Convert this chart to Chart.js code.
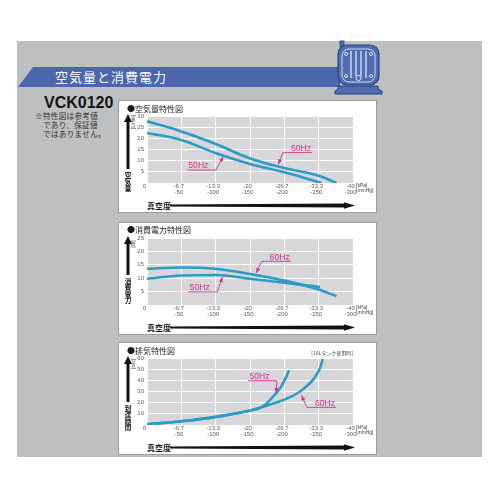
<!DOCTYPE html>
<html>
<head>
<meta charset="utf-8">
<script src="https://cdn.jsdelivr.net/npm/chart.js@4/dist/chart.umd.min.js"></script>
<style>
html,body{margin:0;padding:0;background:#fff;width:500px;height:500px;overflow:hidden;}
#sheet{position:absolute;left:17px;top:41px;width:465px;height:416px;background:#bdbfc1;}
#banner{position:absolute;left:18px;top:67px;width:322px;height:20px;background:#4b66aa;
  clip-path:polygon(15px 0,100% 0,100% 100%,0 100%);}
#banner span{position:absolute;left:37px;top:0;color:#fff;font:13px/20px "Noto Sans CJK JP";letter-spacing:1px;white-space:nowrap;}
#icon{position:absolute;left:334px;top:40px;}
#model{position:absolute;left:44px;top:95px;font:bold 16px/16px "Liberation Sans",Arial,sans-serif;color:#151515;}
#note{position:absolute;left:43px;top:111px;font:7.6px/9px "Noto Sans CJK JP";color:#333;text-indent:-8px;letter-spacing:0.3px;}
.panel{position:absolute;left:118px;width:257px;height:111px;background:#fff;border:1px solid #9c9c9c;}
.panel canvas{position:absolute;left:-1px;top:-1px;}
</style>
</head>
<body>
<div id="sheet"></div>
<div id="banner"><span>空気量と消費電力</span></div>
<svg id="icon" width="50" height="56" viewBox="0 0 50 56">
  <rect x="6" y="1" width="4" height="6" fill="#4f6db0" stroke="#2c3f78" stroke-width="0.8"/>
  <path d="M4 46 L44 46 L44 49 L48 51 L48 54 L1 54 L1 51 L4 49 Z" fill="#4f6db0" stroke="#2c3f78" stroke-width="1"/>
  <rect x="4" y="5" width="41" height="40" rx="9" fill="#4f6db0" stroke="#2c3f78" stroke-width="1.2"/>
  <rect x="8" y="9" width="33" height="33" rx="7" fill="none" stroke="#dde4f4" stroke-width="0.9"/>
  <g stroke="#ffffff" stroke-width="1.1">
    <line x1="17" y1="11" x2="17" y2="38"/>
    <line x1="22" y1="11" x2="22" y2="36"/>
    <line x1="27" y1="11" x2="27" y2="36"/>
    <line x1="32" y1="11" x2="32" y2="38"/>
  </g>
  <g fill="none" stroke="#ffffff" stroke-width="0.8">
    <circle cx="12" cy="14" r="1.5"/><circle cx="37" cy="14" r="1.5"/>
    <circle cx="12" cy="36" r="1.5"/><circle cx="37" cy="36" r="1.5"/>
    <circle cx="24.5" cy="38" r="2.6"/>
  </g>
</svg>
<div id="model">VCK0120</div>
<div id="note">※特性図は参考値<br>であり、保証値<br>ではありません。</div>

<div class="panel" style="top:100px"><canvas id="c1" width="259" height="113"></canvas></div>
<div class="panel" style="top:222px"><canvas id="c2" width="259" height="113"></canvas></div>
<div class="panel" style="top:342px"><canvas id="c3" width="259" height="113"></canvas></div>

<script>
// vacuum axis: values in mmHg, labels show kPa and mmHg
const vacuumTicks = [0, 50, 100, 150, 200, 250, 300];
const kpaLabels = ['0', '-6.7', '-13.3', '-20', '-26.7', '-33.3', '-40'];
const mmhgLabels = ['', '-50', '-100', '-150', '-200', '-250', '-300'];

// 空気量 [L/min]
const airVac60 = [0, 50, 100, 150, 200, 250, 276];
const air60 = [27.6, 23.1, 17.5, 11.0, 6.7, 3.2, 0];
const airVac50 = [0, 50, 100, 150, 200, 254];
const air50 = [22.4, 19.3, 13.4, 8.5, 4.8, 0];

// 消費電力 [W]
const pwrVac60 = [0, 50, 100, 150, 200, 250, 276];
const pwr60 = [13.5, 14.0, 13.5, 11.6, 9.1, 5.8, 3.3];
const pwrVac50 = [0, 50, 100, 150, 200, 252];
const pwr50 = [9.8, 11.0, 11.2, 9.8, 8.3, 6.7];

// 到達時間 [sec] (10Lタンク使用時)
const timeVac60 = [0, 50, 100, 150, 175, 200, 223, 232, 242, 251, 256];
const time60 = [0.6, 3.3, 7.3, 13.0, 17.5, 22.7, 30.0, 34.6, 40.6, 49.6, 59.0];
const timeVac50 = [0, 50, 100, 150, 169, 184, 194, 203, 207];
const time50 = [0.6, 3.3, 7.3, 13.0, 16.7, 25.7, 33.0, 43.6, 49.0];

const LINE = '#2b9bc8';
const MAGENTA = '#d2338a';
const JP = '"Noto Sans CJK JP", sans-serif';
const LAT = '"Liberation Sans", Arial, sans-serif';

function series(xs, ys) {
  return {
    data: xs.map((x, i) => ({ x: x, y: ys[i] })),
    borderColor: LINE, borderWidth: 2.6, pointRadius: 0,
    cubicInterpolationMode: 'monotone', fill: false
  };
}

// panel decorations: title, axis arrows, stacked axis names, Hz callouts
const decor = {
  id: 'decor',
  beforeDraw(chart) {
    const a = chart.chartArea, ctx = chart.ctx;
    ctx.save();
    ctx.fillStyle = '#d7d7d9';
    ctx.fillRect(a.left, a.top, a.right - a.left, a.bottom - a.top);
    ctx.restore();
  },
  afterDraw(chart) {
    const o = chart.options.plugins.decor;
    const ctx = chart.ctx, a = chart.chartArea;
    const xs = chart.scales.x, ys = chart.scales.y;
    ctx.save();

    // panel title
    ctx.fillStyle = '#1a1a1a';
    ctx.font = '8px ' + JP;
    ctx.textBaseline = 'middle';
    ctx.textAlign = 'left';
    ctx.fillText(o.title, 9, o.titleY);

    // upward arrow and stacked axis name
    const ax = 10;
    ctx.fillStyle = '#111';
    ctx.fillRect(ax - 1.5, 21, 3, o.nameTop - 3 - 21);
    ctx.beginPath();
    ctx.moveTo(ax, 14); ctx.lineTo(ax + 4, 22); ctx.lineTo(ax - 4, 22); ctx.closePath();
    ctx.fill();
    ctx.font = 'bold 6.6px ' + JP;
    ctx.textAlign = 'center';
    ctx.textBaseline = 'top';
    for (let i = 0; i < o.name.length; i++) {
      ctx.fillText(o.name[i], ax, o.nameTop + i * 6.4);
    }

    // unit beside the value axis
    ctx.save();
    ctx.translate(15.5, a.top + 6);
    ctx.rotate(-Math.PI / 2);
    ctx.font = '4.6px ' + LAT;
    ctx.fillStyle = '#444';
    ctx.textAlign = 'center';
    ctx.textBaseline = 'middle';
    ctx.fillText(o.unit, 0, 0);
    ctx.restore();

    // vacuum axis name and arrow
    const vy = 105.5;
    ctx.fillStyle = '#111';
    ctx.font = 'bold 8px ' + JP;
    ctx.textAlign = 'left';
    ctx.textBaseline = 'middle';
    ctx.fillText('真空度', 29, vy);
    ctx.beginPath();
    ctx.moveTo(52, vy - 1);
    ctx.lineTo(226, vy - 2);
    ctx.lineTo(226, vy - 3.2);
    ctx.lineTo(237, vy);
    ctx.lineTo(226, vy + 3.2);
    ctx.lineTo(226, vy + 2);
    ctx.lineTo(52, vy + 1);
    ctx.closePath();
    ctx.fill();

    // pressure units
    ctx.fillStyle = '#444';
    ctx.font = '5px ' + LAT;
    ctx.textAlign = 'left';
    ctx.textBaseline = 'middle';
    ctx.fillText('[kPa]', a.right + 3, a.bottom + 2.5);
    ctx.fillText('[mmHg]', a.right + 3, a.bottom + 8);

    // optional note
    if (o.note) {
      ctx.font = '5px ' + JP;
      ctx.textAlign = 'right';
      ctx.fillText(o.note, a.right, a.top - 5);
    }

    // Hz callouts
    ctx.strokeStyle = MAGENTA;
    ctx.fillStyle = MAGENTA;
    ctx.lineWidth = 0.9;
    ctx.font = '8.6px ' + LAT;
    ctx.textBaseline = 'alphabetic';
    o.callouts.forEach(c => {
      const ux = xs.getPixelForValue(c.at[0]);
      const uy = ys.getPixelForValue(c.at[1]);
      const w = 29;
      const sx = c.side === 'right' ? ux + w : ux;
      const tx = xs.getPixelForValue(c.tip[0]);
      const ty = ys.getPixelForValue(c.tip[1]);
      ctx.beginPath();
      ctx.moveTo(ux, uy); ctx.lineTo(ux + w, uy);
      ctx.moveTo(sx, uy); ctx.lineTo(tx, ty);
      ctx.stroke();
      const ang = Math.atan2(ty - uy, tx - sx);
      ctx.beginPath();
      ctx.moveTo(tx, ty);
      ctx.lineTo(tx - 5 * Math.cos(ang) + 2 * Math.sin(ang), ty - 5 * Math.sin(ang) - 2 * Math.cos(ang));
      ctx.lineTo(tx - 5 * Math.cos(ang) - 2 * Math.sin(ang), ty - 5 * Math.sin(ang) + 2 * Math.cos(ang));
      ctx.closePath();
      ctx.fill();
      if (c.side === 'right') {
        ctx.textAlign = 'left';
        ctx.fillText(c.text, ux + 1.5, uy - 1.8);
      } else {
        ctx.textAlign = 'right';
        ctx.fillText(c.text, ux + w - 1, uy - 1.8);
      }
    });
    ctx.restore();
  }
};

function makeChart(id, datasets, yMax, yStep, deco) {
  return new Chart(document.getElementById(id), {
    type: 'line',
    data: { datasets: datasets },
    options: {
      responsive: false,
      animation: false,
      devicePixelRatio: 1,
      layout: { padding: { top: 16, right: 24, left: 0, bottom: 0 } },
      plugins: { legend: { display: false }, tooltip: { enabled: false }, decor: deco },
      scales: {
        x: {
          type: 'linear', min: 0, max: 300,
          afterBuildTicks: s => { s.ticks = vacuumTicks.map(v => ({ value: v })); },
          afterFit: s => { s.height = 30; },
          grid: { color: '#ffffff', lineWidth: 1, drawTicks: false },
          border: { display: false },
          ticks: {
            padding: 0, color: '#5e5e5e', maxRotation: 0, autoSkip: false, labelOffset: -2.5,
            font: { family: LAT, size: 6, lineHeight: 1.05 },
            callback: v => {
              const i = vacuumTicks.indexOf(v);
              return i <= 0 ? kpaLabels[0] : [kpaLabels[i], mmhgLabels[i]];
            }
          }
        },
        y: {
          min: 0, max: yMax,
          afterFit: s => { s.width = 29; },
          grid: { color: '#ffffff', lineWidth: 1, drawTicks: false },
          border: { display: false },
          ticks: {
            stepSize: yStep, padding: 3, color: '#5e5e5e',
            font: { family: LAT, size: 6 },
            callback: v => v === 0 ? '' : v
          }
        }
      }
    },
    plugins: [decor]
  });
}

makeChart('c1', [series(airVac60, air60), series(airVac50, air50)], 30, 5, {
  title: '●空気量特性図', titleY: 8.5, name: '空気量', nameTop: 72, unit: '[L/min]',
  callouts: [
    { text: '50Hz', at: [58, 5.8], side: 'right', tip: [111, 11.8] },
    { text: '60Hz', at: [198, 13.6], side: 'left', tip: [191, 8.3] }
  ]
});

makeChart('c2', [series(pwrVac60, pwr60), series(pwrVac50, pwr50)], 25, 5, {
  title: '●消費電力特性図', titleY: 7.5, name: '消費電力', nameTop: 56, unit: '[W]',
  callouts: [
    { text: '60Hz', at: [167, 16.3], side: 'left', tip: [159, 11.9] },
    { text: '50Hz', at: [60, 4.9], side: 'right', tip: [110, 10.4] }
  ]
});

makeChart('c3', [series(timeVac50, time50), series(timeVac60, time60)], 60, 10, {
  title: '●排気特性図', titleY: 8.5, name: '到達時間', nameTop: 63, unit: '[sec]',
  note: '[10Lタンク使用時]',
  callouts: [
    { text: '50Hz', at: [147, 39.7], side: 'right', tip: [188, 28.6] },
    { text: '60Hz', at: [233, 15.8], side: 'left', tip: [225, 26.5] }
  ]
});
</script>
</body>
</html>
